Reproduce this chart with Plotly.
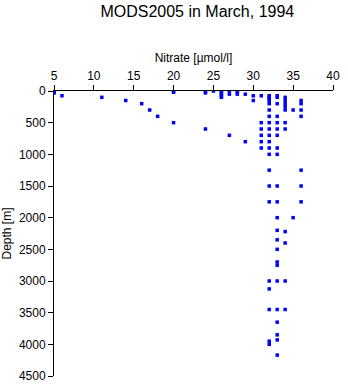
import plotly.graph_objects as go

title = "MODS2005 in March, 1994"
x_title = "Nitrate [µmol/l]"
y_title = "Depth [m]"
x_ticks = [5, 10, 15, 20, 25, 30, 35, 40]
y_ticks = [0, 500, 1000, 1500, 2000, 2500, 3000, 3500, 4000, 4500]

# nitrate value -> list of depths
profile = {
    5: [0, 10, 20, 30],
    6: [75],
    11: [100],
    14: [150],
    16: [200],
    17: [300],
    18: [400],
    20: [0, 20, 500],
    24: [10, 30, 600],
    25: [0],
    26: [0, 20, 50, 75, 100],
    27: [0, 50, 700],
    28: [0, 20, 50],
    29: [50, 800],
    30: [75, 150],
    31: [75, 500, 600, 700, 800, 900],
    32: [75, 100, 125, 150, 200, 300, 400, 500, 600, 700, 800, 900, 1000,
         1250, 1500, 1750, 3000, 3125, 3450, 3950, 4000],
    33: [75, 100, 200, 400, 500, 600, 700, 900, 1000, 1500, 1750, 2000,
         2200, 2350, 2500, 2700, 2750, 3000, 3450, 3650, 3850, 3930, 4170],
    34: [100, 150, 200, 250, 300, 500, 600, 2220, 2400, 3000, 3450],
    35: [300, 2000],
    36: [150, 200, 300, 400, 1250, 1500, 1750],
}

nitrate = [n for n, ds in profile.items() for _ in ds]
depth = [d for ds in profile.values() for d in ds]

fig = go.Figure(go.Scatter(
    x=nitrate, y=depth, mode="markers",
    marker=dict(symbol="square", size=3.5, color="#0000ff", line=dict(width=0)),
    showlegend=False,
))

font = "Liberation Sans, Arial, Helvetica, sans-serif"
fig.update_layout(
    width=348, height=384,
    margin=dict(l=54, r=8, t=91, b=8),
    paper_bgcolor="white", plot_bgcolor="white",
    font=dict(family=font, size=12, color="black"),
    title=dict(text=title, x=0.567, xanchor="center", y=0.97, yanchor="middle",
               font=dict(size=16, family=font, color="black")),
)
fig.update_xaxes(
    side="top", range=[5, 40], tickvals=x_ticks, ticks="outside", ticklen=5,
    tickcolor="black", showline=True, linecolor="black", linewidth=1,
    showgrid=False, zeroline=False, tickfont=dict(size=12), automargin=True,
    title=dict(text=x_title, standoff=4, font=dict(size=12)),
)
fig.update_yaxes(
    range=[4500, 0], tickvals=y_ticks, ticks="outside", ticklen=5,
    tickcolor="black", showline=True, linecolor="black", linewidth=1,
    showgrid=False, zeroline=False, tickfont=dict(size=12), automargin=False,
    title=dict(text=y_title, font=dict(size=12)),
)

fig.write_html("out.html")
